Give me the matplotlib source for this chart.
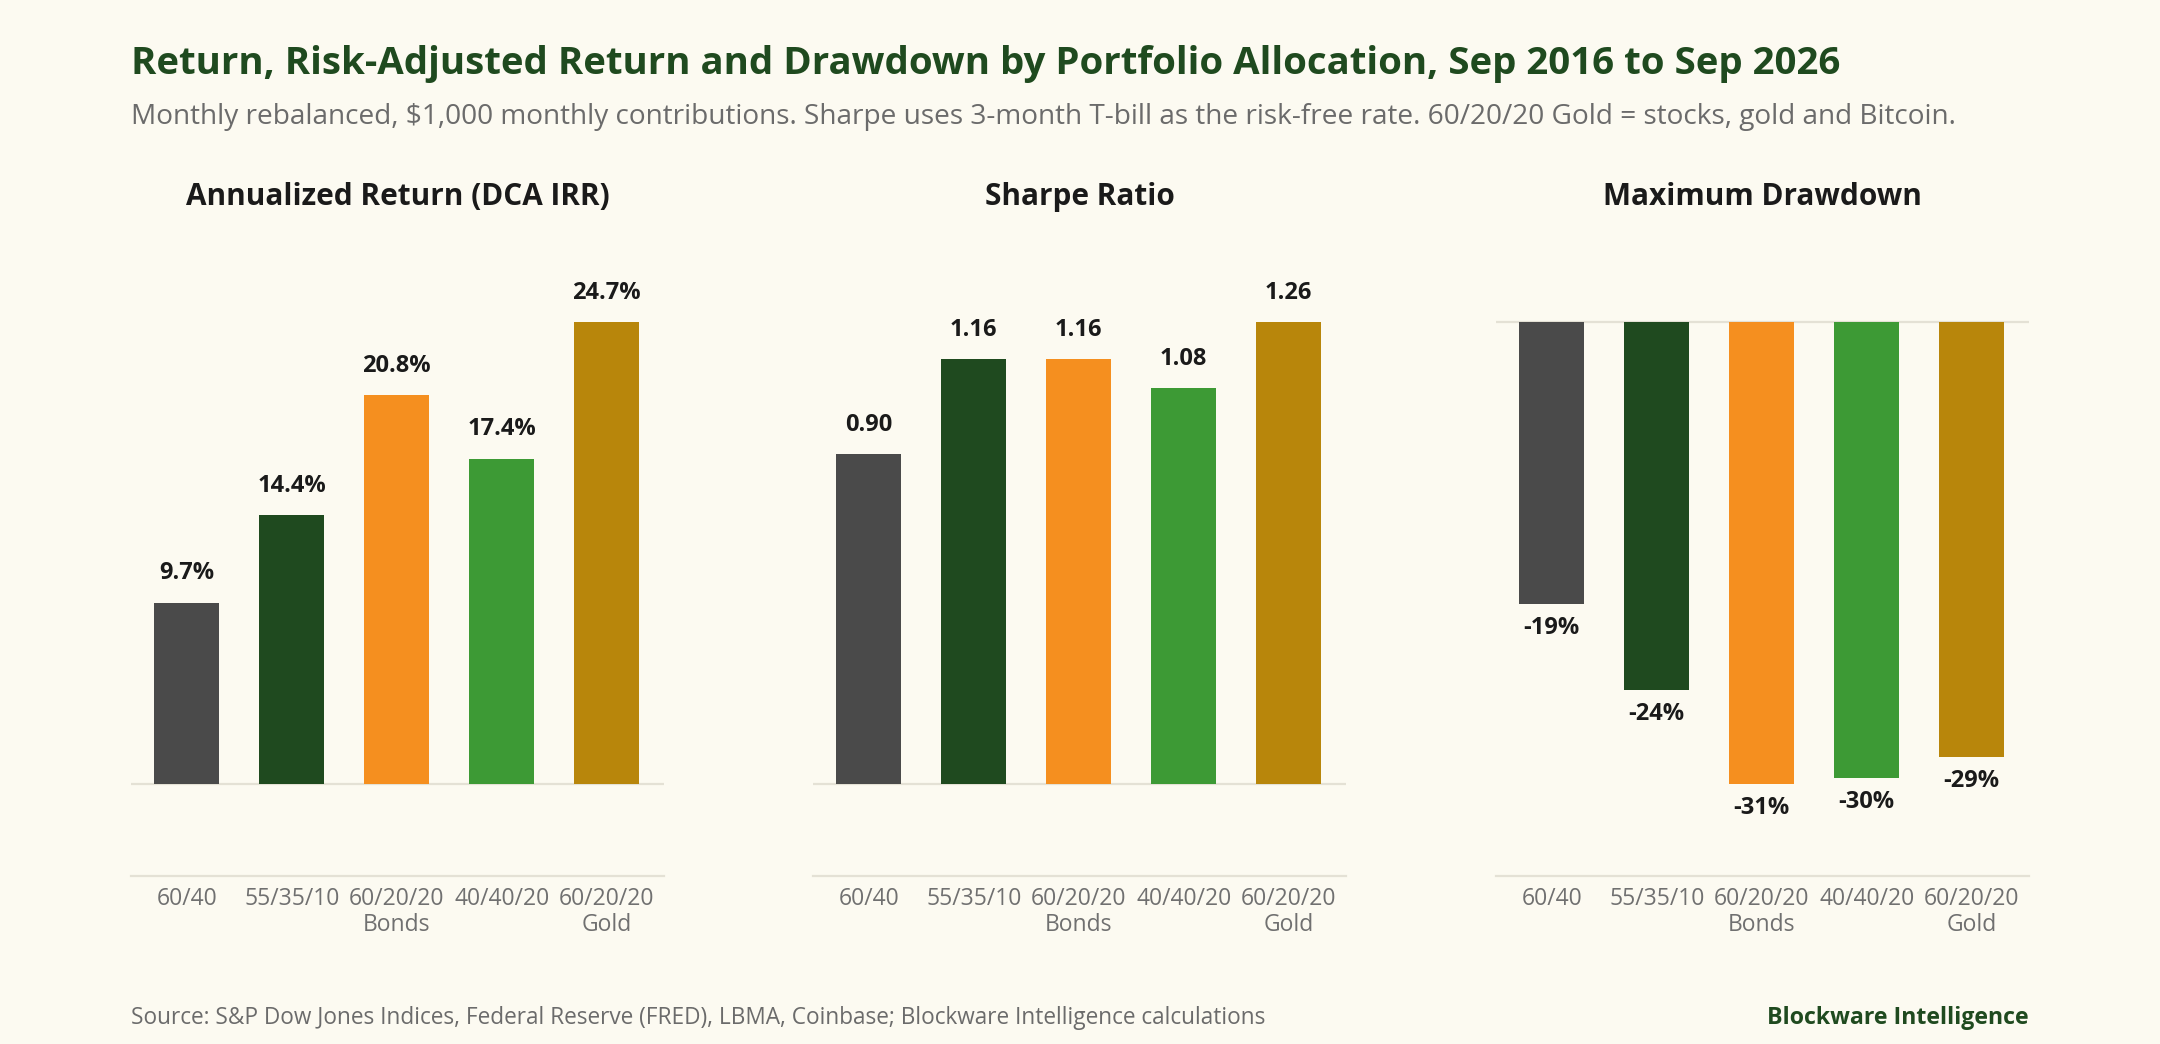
import matplotlib
matplotlib.use("Agg")
import matplotlib.pyplot as plt

# ---------------- data ----------------
categories = ["60/40", "55/35/10", "60/20/20\nBonds", "40/40/20", "60/20/20\nGold"]
annual_return = [9.7, 14.4, 20.8, 17.4, 24.7]
sharpe_ratio = [0.90, 1.16, 1.16, 1.08, 1.26]
max_drawdown = [-18.9, -24.7, -31.0, -30.6, -29.2]
drawdown_labels = ["-19%", "-24%", "-31%", "-30%", "-29%"]
panel_titles = ["Annualized Return (DCA IRR)", "Sharpe Ratio", "Maximum Drawdown"]
bar_colors = ["#4a4a4a", "#1f4a1f", "#f58f1f", "#3d9a35", "#b8860b"]

title = "Return, Risk-Adjusted Return and Drawdown by Portfolio Allocation, Sep 2016 to Sep 2026"
subtitle = ("Monthly rebalanced, $1,000 monthly contributions. Sharpe uses 3-month T-bill as the "
            "risk-free rate. 60/20/20 Gold = stocks, gold and Bitcoin.")
source = "Source: S&P Dow Jones Indices, Federal Reserve (FRED), LBMA, Coinbase; Blockware Intelligence calculations"
brand = "Blockware Intelligence"

# ---------------- style ----------------
BG = "#fcfaf1"
LINE = "#e4e1d5"
GREEN = "#1f4a1f"
plt.rcParams["font.family"] = ["Open Sans", "DejaVu Sans"]

fig = plt.figure(figsize=(21.6, 10.44), dpi=100, facecolor=BG)

lefts = [131 / 2160, 813 / 2160, 1496 / 2160]
width = 533 / 2160
bottom = 1 - 876 / 1044
height = (876 - 230) / 1044

series = [annual_return, sharpe_ratio, max_drawdown]
labels_all = [[f"{v:.1f}%" for v in annual_return],
              [f"{v:.2f}" for v in sharpe_ratio],
              drawdown_labels]

x = list(range(len(categories)))
for i in range(3):
    ax = fig.add_axes([lefts[i], bottom, width, height])
    ax.set_facecolor(BG)
    vals = series[i]
    ax.bar(x, vals, width=0.62, color=bar_colors, zorder=3)
    ax.axhline(0, color=LINE, lw=1.6, zorder=2)
    mx = max(abs(v) for v in vals)
    if i < 2:
        ax.set_ylim(-0.2 * mx, 1.2 * mx)
    else:
        ax.set_ylim(-1.2 * mx, 0.2 * mx)
    ax.set_xlim(-0.53, 4.545)
    for xi, v, lab in zip(x, vals, labels_all[i]):
        off = 21.0 if v >= 0 else -17.5
        ax.annotate(lab, (xi, v), xytext=(0, off), textcoords="offset points",
                    ha="center", va="center", fontsize=17, fontweight="bold",
                    color="#1a1a1a", zorder=4)
    ax.set_xticks(x)
    ax.set_xticklabels(categories, fontsize=16.5, color="#707070", linespacing=1.1)
    ax.tick_params(axis="x", length=0, pad=8)
    ax.set_yticks([])
    for s in ["top", "left", "right"]:
        ax.spines[s].set_visible(False)
    ax.spines["bottom"].set_color(LINE)
    ax.spines["bottom"].set_linewidth(1.6)
    fig.text(lefts[i] + width / 2, 1 - 197 / 1044, panel_titles[i], ha="center", va="center",
             fontsize=21.4, fontweight="bold", color="#1a1a1a")

fig.text(131 / 2160, 1 - 64 / 1044, title, ha="left", va="center", fontsize=27.6,
         fontweight="bold", color=GREEN)
fig.text(131 / 2160, 1 - 117 / 1044, subtitle, ha="left", va="center", fontsize=20.2,
         color="#6b6b6b")
fig.text(131 / 2160, 1 - 1018 / 1044, source, ha="left", va="center", fontsize=16.3,
         color="#6b6b6b")
fig.text(2029 / 2160, 1 - 1018 / 1044, brand, ha="right", va="center", fontsize=16.7,
         fontweight="bold", color=GREEN)

fig.savefig("out.png", dpi=100, facecolor=BG)
